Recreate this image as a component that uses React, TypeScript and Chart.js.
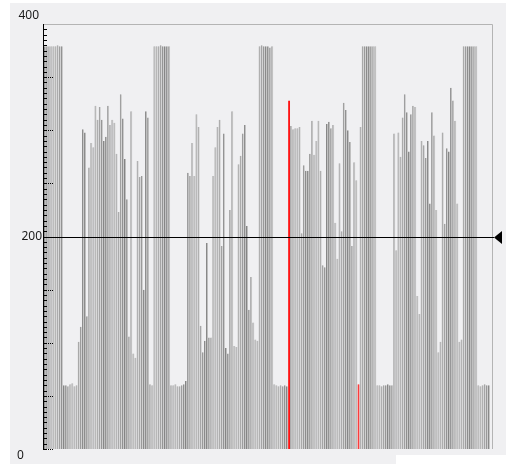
import React, { useEffect, useRef } from "react";
import { Chart, registerables } from "chart.js";

Chart.register(...registerables);

// Bar heights, left to right
const barValues: number[] = [
  379, 379, 379, 379, 379, 379, 380, 379, 379,
  60, 60, 59, 61, 62, 59, 60,
  101, 115, 301, 298, 125, 265, 288, 284, 323, 310, 322, 310, 290, 294, 323, 305, 310, 307, 278, 223, 334, 311, 273, 235, 106, 318, 90, 86, 271, 256, 257, 150, 318, 312,
  61, 60,
  379, 379, 379, 380, 379, 379, 379, 379,
  60, 60, 61, 59, 59, 60, 61, 64,
  260, 257, 288, 257, 315, 303, 116, 91, 102, 194, 105, 105, 257, 284, 303, 310, 191, 297, 95, 90, 225, 318, 97, 96, 268, 276, 297, 305, 210, 131, 162, 119, 103, 102,
  379, 380, 379, 379, 379, 378, 379,
  61, 60, 59, 60, 59, 60, 59,
  328,
  304, 301, 302, 302, 303, 203, 267, 262, 262, 278, 309, 277, 290, 309, 262, 173, 171, 306, 308, 302, 305, 213, 179, 269, 205, 326, 319, 300, 289, 191, 270, 253,
  61,
  303,
  379, 379, 379, 379, 379, 379, 379,
  60, 60, 59, 60, 60, 61, 60, 60,
  297, 187, 298, 275, 312, 334, 317, 280, 315, 323, 322, 144, 127, 290, 286, 274, 290, 231, 317, 295, 225, 91, 101, 298, 212, 283, 280, 340, 328, 309, 231, 101, 103,
  379, 379, 379, 379, 379, 379, 379,
  60, 59, 60, 61, 60, 60,
];

// Categories (one per bar)
const categories: string[] = barValues.map((_, i) => String(i + 1));

// Highlighted (red) bars, by index
const highlightedBars: number[] = [116, 149];

// Axis
const yMin = 0;
const yMax = 400;
const tickLabels: number[] = [0, 200, 400];
const minorTickStep = 5;
const majorTickStep = 50;

// Reference level line
const referenceLevel = 200;

export default function App() {
  const canvasRef = useRef<HTMLCanvasElement>(null);

  useEffect(() => {
    const canvas = canvasRef.current;
    if (!canvas) return;

    const bg = barValues.map((_, i) => (highlightedBars.includes(i) ? "#ff0000" : "#bcbcbc"));
    const bc = barValues.map((_, i) => (highlightedBars.includes(i) ? "#ff0000" : "#808080"));

    const decor = {
      id: "decor",
      beforeDraw(chart: any) {
        const ctx = chart.ctx;
        const { top, bottom, left, right } = chart.chartArea;
        ctx.save();
        ctx.fillStyle = "#ffffff";
        ctx.fillRect(0, 0, 510, 464);
        ctx.fillStyle = "#f0f0f2";
        ctx.fillRect(10, 3, 496, 461);
        ctx.fillStyle = "#ffffff";
        ctx.fillRect(396, 455, 114, 9);
        // frame (top and right)
        ctx.strokeStyle = "#b4b4b4";
        ctx.lineWidth = 1;
        ctx.beginPath();
        ctx.moveTo(left - 1, Math.round(top) + 0.5);
        ctx.lineTo(right + 2.5, Math.round(top) + 0.5);
        ctx.lineTo(right + 2.5, bottom);
        ctx.stroke();
        ctx.restore();
      },
      afterDatasetsDraw(chart: any) {
        const ctx = chart.ctx;
        const y = chart.scales.y;
        const { top, bottom, left, right } = chart.chartArea;
        const ax = left - 0.5;
        ctx.save();
        // left axis line
        ctx.strokeStyle = "#000000";
        ctx.lineWidth = 1;
        ctx.beginPath();
        ctx.moveTo(ax, top);
        ctx.lineTo(ax, bottom);
        ctx.stroke();
        // ticks
        ctx.fillStyle = "#000000";
        for (let v = yMin; v <= yMax; v += minorTickStep) {
          const py = Math.round(y.getPixelForValue(v));
          if (py <= top + 1) continue;
          ctx.fillRect(ax - 0.5, py, 4, 1);
          if (v % majorTickStep === 0) {
            ctx.fillRect(ax + 4.5, py, 1, 1);
            ctx.fillRect(ax + 6.5, py, 1, 1);
            ctx.fillRect(ax + 8.5, py, 1, 1);
          }
        }
        // reference level line + marker
        const ly = Math.round(y.getPixelForValue(referenceLevel)) + 0.5;
        ctx.beginPath();
        ctx.moveTo(ax, ly);
        ctx.lineTo(right + 4, ly);
        ctx.stroke();
        ctx.beginPath();
        ctx.moveTo(right + 4, ly);
        ctx.lineTo(right + 12, ly - 6.5);
        ctx.lineTo(right + 12, ly + 6.5);
        ctx.closePath();
        ctx.fill();
        // tick labels
        ctx.fillStyle = "#1a1a1a";
        ctx.font = "12px 'Noto Sans', 'DejaVu Sans', sans-serif";
        ctx.textBaseline = "middle";
        for (const v of tickLabels) {
          const py = y.getPixelForValue(v);
          const text = String(v);
          if (v === yMax) {
            ctx.textAlign = "right";
            ctx.fillText(text, left - 5, py - 8);
          } else if (v === yMin) {
            ctx.textAlign = "left";
            ctx.fillText(text, left - 27, py + 7);
          } else {
            ctx.textAlign = "right";
            ctx.fillText(text, left - 2, py);
          }
        }
        ctx.restore();
      },
    };

    const chart = new Chart(canvas, {
      type: "bar",
      data: {
        labels: categories,
        datasets: [
          {
            data: barValues,
            backgroundColor: bg,
            borderColor: bc,
            borderWidth: { left: 1, top: 0, right: 0, bottom: 0 },
            borderSkipped: false,
            barPercentage: 0.92,
            categoryPercentage: 1,
          } as any,
        ],
      },
      options: {
        responsive: false,
        animation: false,
        devicePixelRatio: 1,
        layout: { padding: { left: 44, right: 20, top: 24, bottom: 15 } },
        scales: {
          x: { display: false },
          y: { display: false, min: yMin, max: yMax },
        },
        plugins: {
          legend: { display: false },
          tooltip: { enabled: false },
        },
      },
      plugins: [decor],
    });

    return () => chart.destroy();
  }, []);

  return (
    <div style={{ position: "fixed", left: 0, top: 0, width: 510, height: 464, background: "#ffffff" }}>
      <canvas ref={canvasRef} width={510} height={464} style={{ display: "block", width: 510, height: 464 }} />
    </div>
  );
}
